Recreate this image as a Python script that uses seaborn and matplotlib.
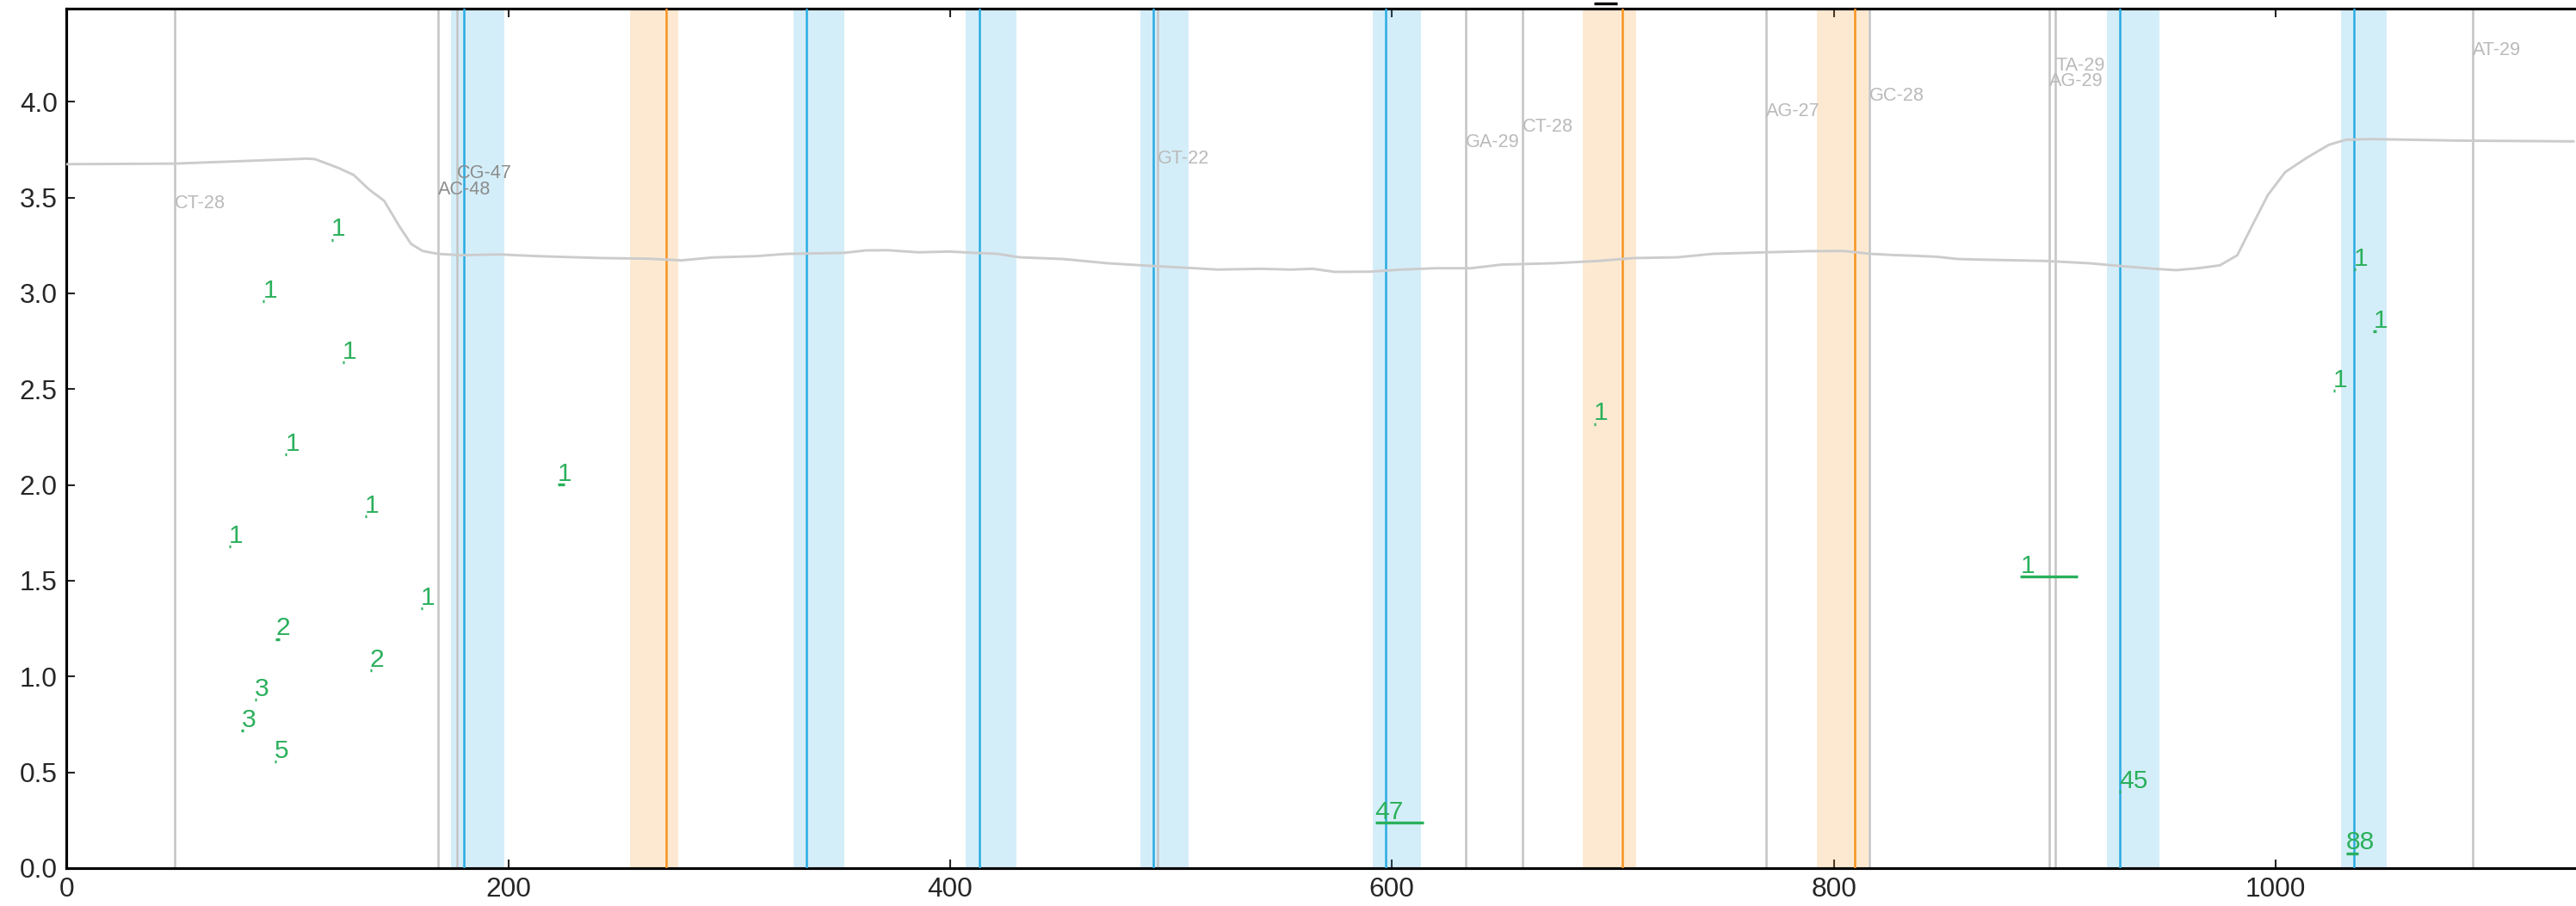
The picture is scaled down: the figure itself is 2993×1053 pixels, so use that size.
import matplotlib
matplotlib.use("Agg")
import matplotlib.pyplot as plt
import seaborn as sns
import pandas as pd

sns.set_theme(style="ticks")
plt.rcParams["font.family"] = ["Liberation Sans", "DejaVu Sans"]

# -------------------------
# Data
# -------------------------
# smooth grey track
curve_x = [0, 49, 109, 112.6, 123, 130, 136.9, 143.8, 150.8, 156, 161.2, 168.2,
           178.6, 196, 213.4, 230.8, 242.6, 262.5, 278.4, 292.3, 312.2, 326.1,
           342, 351.9, 361.8, 371.8, 385.7, 399.6, 411.6, 421.5, 431.4, 451.3,
           471.2, 491.1, 510.9, 520.9, 540.7, 554.3, 564.2, 574.1, 590, 604,
           619.9, 635.7, 649.7, 673.5, 693.4, 709.3, 729.2, 745.1, 768.9, 788.8,
           804.7, 816.6, 826.9, 836.5, 846.6, 856.3, 866.3, 895.8, 915.6, 929.4,
           945.2, 955, 964.9, 974.8, 982.7, 986.6, 990.5, 996.5, 1004.4, 1014.2,
           1024.1, 1032, 1043.8, 1083.2, 1135]
curve_y = [3.674, 3.677, 3.703, 3.700, 3.655, 3.618, 3.543, 3.483, 3.348, 3.258,
           3.221, 3.206, 3.199, 3.203, 3.194, 3.188, 3.184, 3.181, 3.172, 3.187,
           3.194, 3.206, 3.209, 3.211, 3.224, 3.225, 3.214, 3.218, 3.211, 3.206,
           3.188, 3.179, 3.157, 3.143, 3.131, 3.124, 3.128, 3.124, 3.128, 3.112,
           3.113, 3.124, 3.131, 3.131, 3.150, 3.157, 3.169, 3.184, 3.188, 3.206,
           3.214, 3.220, 3.221, 3.206, 3.200, 3.196, 3.191, 3.179, 3.176, 3.169,
           3.157, 3.143, 3.128, 3.121, 3.131, 3.146, 3.199, 3.289, 3.378, 3.513,
           3.633, 3.708, 3.775, 3.802, 3.805, 3.797, 3.793]

# grey markers with names
marker_x = [49.0, 168.2, 176.9, 493.8, 633.4, 659.2, 769.3, 816.2, 897.5, 900.3, 1089.4]
marker_names = ["CT-28", "AC-48", "CG-47", "GT-22", "GA-29", "CT-28", "AG-27",
                "GC-28", "AG-29", "TA-29", "AT-29"]
marker_label_y = [3.443, 3.517, 3.603, 3.678, 3.761, 3.842, 3.925, 4.004,
                  4.082, 4.164, 4.243]
marker_dark = [False, True, True, False, False, False, False, False, False, False, False]

# blue sites and their windows
blue_x = [180.0, 335.0, 413.2, 492.1, 597.2, 929.4, 1035.5]
blue_start = [174.0, 329.1, 407.0, 486.1, 591.2, 923.5, 1029.5]
blue_end = [198.3, 352.3, 430.2, 508.1, 613.3, 947.6, 1050.4]

# orange sites and their windows
orange_x = [271.3, 704.4, 809.5]
orange_start = [255.1, 686.4, 792.4]
orange_end = [277.0, 710.4, 815.8]

# green segments: start, end, height, count
seg_start = [120.0, 88.9, 125.0, 99.0, 135.1, 73.4, 160.4, 94.6, 137.4, 85.3,
             79.2, 94.3, 222.2, 592.4, 691.5, 884.5, 929.2, 1026.2, 1035.3,
             1044.2, 1031.9]
seg_end = [120.8, 89.7, 125.8, 99.8, 135.9, 74.2, 161.2, 96.4, 138.2, 86.1,
           80.0, 95.1, 225.4, 614.2, 692.3, 910.5, 930.0, 1027.0, 1036.1,
           1045.8, 1037.4]
seg_y = [3.28, 2.96, 2.64, 2.16, 1.835, 1.68, 1.355, 1.196, 1.033, 0.879,
         0.717, 0.557, 2.001, 0.239, 2.319, 1.521, 0.40, 2.49, 3.124,
         2.802, 0.078]
seg_count = ["1", "1", "1", "1", "1", "1", "1", "2", "2", "3", "3", "5", "1",
             "47", "1", "1", "45", "1", "1", "1", "88"]

# stray bar above the frame
top_bar_x = [691.4, 701.8]
top_bar_y = 4.511

x_ticks = [0, 200, 400, 600, 800, 1000]
y_ticks = [0.0, 0.5, 1.0, 1.5, 2.0, 2.5, 3.0, 3.5, 4.0]

# -------------------------
# Colours
# -------------------------
BLUE = "#29ABE2"
ORANGE = "#F7931E"
GREEN = "#2BB05C"
GREY_LINE = "#c4c4c4"

fig = plt.figure(figsize=(2993 / 300, 1053 / 300), dpi=300)
ax = fig.add_axes([77.2 / 2993, 44 / 1053, 1 - 77.2 / 2993, 999 / 1053])

for s, e in zip(blue_start, blue_end):
    ax.axvspan(s, e, color=BLUE, alpha=0.2, lw=0, zorder=1)
for s, e in zip(orange_start, orange_end):
    ax.axvspan(s, e, color=ORANGE, alpha=0.2, lw=0, zorder=1)

for x, name, ly, dark in zip(marker_x, marker_names, marker_label_y, marker_dark):
    ax.axvline(x, color=GREY_LINE, lw=0.6, zorder=2)
    ax.text(x, ly, name, ha="left", va="baseline", fontsize=5.2,
            color="#8c8c8c" if dark else "#bababa", zorder=5)

for x in blue_x:
    ax.axvline(x, color=BLUE, lw=0.6, zorder=3)
for x in orange_x:
    ax.axvline(x, color=ORANGE, lw=0.6, zorder=3)

track = pd.DataFrame({"pos": curve_x, "val": curve_y})
sns.lineplot(data=track, x="pos", y="val", ax=ax, color="#cccccc", lw=0.7,
             zorder=4, estimator=None)

ax.hlines(seg_y, seg_start, seg_end, color=GREEN, lw=0.8, zorder=6, capstyle="butt")
for s, y, c in zip(seg_start, seg_y, seg_count):
    ax.annotate(c, (s, y), xytext=(0, 1), textcoords="offset points",
                ha="left", va="baseline", fontsize=7.2, color=GREEN, zorder=6)

ax.hlines([top_bar_y], top_bar_x[0], top_bar_x[1], color="black", lw=0.8,
          clip_on=False)

ax.set_xlim(0, 1136)
ax.set_ylim(0, 4.486)
ax.set_xticks(x_ticks)
ax.set_yticks(y_ticks)
ax.set_yticklabels([f"{v:.1f}" for v in y_ticks])
ax.set_xlabel("")
ax.set_ylabel("")
ax.tick_params(direction="in", length=2.4, width=0.5, labelsize=7.6,
               top=True, bottom=True, left=True, right=False, pad=2.5)
for side in ["left", "top", "bottom"]:
    ax.spines[side].set_linewidth(0.75)
    ax.spines[side].set_color("black")
ax.spines["right"].set_visible(False)

fig.savefig("out.png", dpi=300)
